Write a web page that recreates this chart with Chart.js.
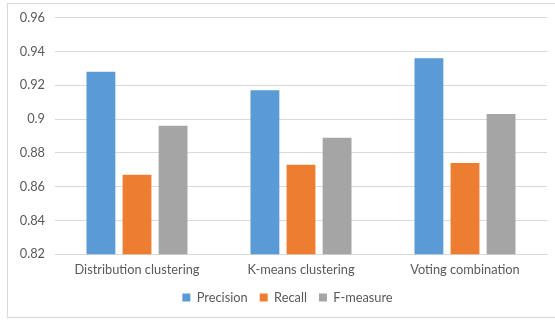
<!DOCTYPE html>
<html>
<head>
<meta charset="utf-8">
<script src="https://cdn.jsdelivr.net/npm/chart.js@4"></script>
<style>
  body { margin: 0; background: #fff; }
  #wrap { position: relative; width: 555px; height: 320px; }
  #frame { position: absolute; left: 7px; top: 3px; width: 560px; height: 315px; border: 1px solid #d9d9d9; box-sizing: border-box; }
  canvas { position: absolute; left: 0; top: 0; }
</style>
</head>
<body>
<div id="wrap">
  <div id="frame"></div>
  <canvas id="chart" width="555" height="320"></canvas>
</div>
<script>
// chart data
const categories = ['Distribution clustering', 'K-means clustering', 'Voting combination'];
const precision = [0.928, 0.917, 0.936];
const recall = [0.867, 0.873, 0.874];
const fMeasure = [0.896, 0.889, 0.903];
const yTicks = [0.82, 0.84, 0.86, 0.88, 0.9, 0.92, 0.94, 0.96];

const textColor = '#595959';
const gridColor = '#d9d9d9';

function makeSet(label, data, color) {
    return {
        label: label,
        data: data,
        backgroundColor: color,
        borderWidth: 0,
        categoryPercentage: 0.66,
        barPercentage: 0.8
    };
}

// legend sits a bit right of centre in the original
const shiftLegend = {
    id: 'shiftLegend',
    afterLayout(chart) {
        chart.legend.left += 10;
        chart.legend.right += 10;
    }
};

new Chart(document.getElementById('chart').getContext('2d'), {
    type: 'bar',
    data: {
        labels: categories,
        datasets: [
            makeSet('Precision', precision, '#5b9bd5'),
            makeSet('Recall', recall, '#ed7d31'),
            makeSet('F-measure', fMeasure, '#a5a5a5')
        ]
    },
    plugins: [shiftLegend],
    options: {
        responsive: false,
        animation: false,
        layout: { padding: { left: 8, right: 8, top: 15, bottom: 6 } },
        plugins: {
            legend: {
                position: 'bottom',
                labels: {
                    boxWidth: 8,
                    boxHeight: 8,
                    padding: 12,
                    color: textColor,
                    font: { family: 'Lato', size: 12.8 }
                }
            },
            tooltip: { enabled: false }
        },
        scales: {
            x: {
                grid: { display: false, drawTicks: false },
                border: { color: gridColor },
                ticks: { color: textColor, padding: 8, font: { family: 'Lato', size: 12.8 } },
                afterFit: scale => { scale.height = 25; }
            },
            y: {
                min: 0.82,
                max: 0.96,
                grid: { color: gridColor, drawTicks: false },
                border: { display: false },
                afterBuildTicks: scale => { scale.ticks = yTicks.map(v => ({ value: v })); },
                ticks: {
                    color: textColor,
                    padding: 10,
                    font: { family: 'Lato', size: 12.8 },
                    callback: v => String(+v.toFixed(2))
                },
                afterFit: scale => { scale.width = 47; }
            }
        }
    }
});
</script>
</body>
</html>
